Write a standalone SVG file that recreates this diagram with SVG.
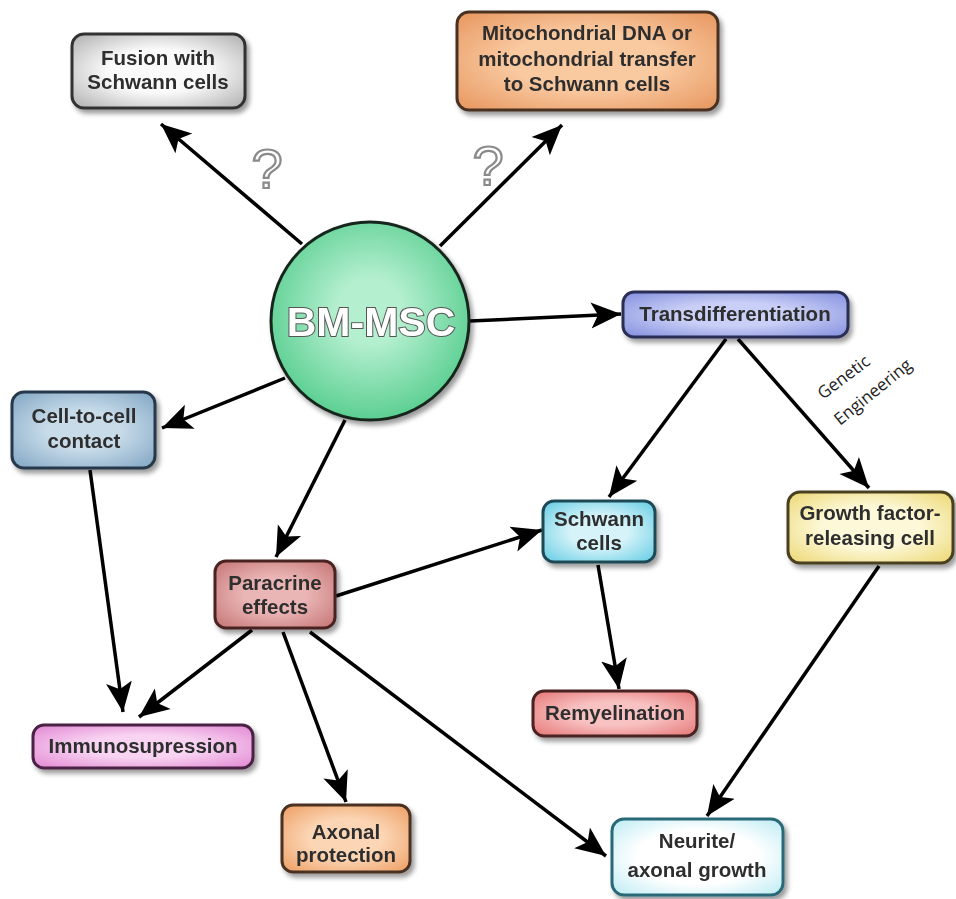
<svg xmlns="http://www.w3.org/2000/svg" width="956" height="899" viewBox="0 0 956 899">
<defs>
<style>
.box{stroke-width:3}
.t{font-family:"Liberation Sans",Arial,sans-serif;font-weight:bold;font-size:20.5px;fill:#2e2e2e;text-anchor:middle}
.c line{stroke:#000;stroke-width:3.5;marker-end:url(#ah)}
.q{font-family:"Liberation Sans",Arial,sans-serif;font-size:56px;fill:#fff;stroke:#8a8a8a;stroke-width:2.2;text-anchor:middle}
.ge{font-family:"Open Sans","Noto Sans",sans-serif;font-size:17px;fill:#222}
</style>
<marker id="ah" markerUnits="userSpaceOnUse" markerWidth="32" markerHeight="28" refX="30" refY="14" orient="auto">
<path d="M0,1 L30,14 L0,27 L7,14 z" fill="#000"/>
</marker>
<filter id="sh" x="-20%" y="-20%" width="140%" height="150%">
<feGaussianBlur in="SourceAlpha" stdDeviation="2.5"/>
<feOffset dx="3" dy="4" result="b"/>
<feComponentTransfer><feFuncA type="linear" slope="0.4"/></feComponentTransfer>
<feMerge><feMergeNode/><feMergeNode in="SourceGraphic"/></feMerge>
</filter>
<radialGradient id="gGray" cx="50%" cy="50%" r="65%"><stop offset="0.45" stop-color="#fafafa"/><stop offset="1" stop-color="#b8b8b8"/></radialGradient>
<radialGradient id="gOrange" cx="50%" cy="50%" r="65%"><stop offset="0.45" stop-color="#f9c9a0"/><stop offset="1" stop-color="#e99c66"/></radialGradient>
<radialGradient id="gBlue" cx="50%" cy="50%" r="65%"><stop offset="0.4" stop-color="#c9cff6"/><stop offset="1" stop-color="#8a95e0"/></radialGradient>
<radialGradient id="gSteel" cx="50%" cy="50%" r="65%"><stop offset="0.4" stop-color="#c7dbe9"/><stop offset="1" stop-color="#88abc7"/></radialGradient>
<radialGradient id="gRose" cx="50%" cy="50%" r="65%"><stop offset="0.4" stop-color="#eab5b5"/><stop offset="1" stop-color="#c97b7b"/></radialGradient>
<radialGradient id="gCyan" cx="50%" cy="50%" r="65%"><stop offset="0.4" stop-color="#d5f3f9"/><stop offset="1" stop-color="#6fd0e6"/></radialGradient>
<radialGradient id="gYellow" cx="50%" cy="50%" r="65%"><stop offset="0.45" stop-color="#fdf8d8"/><stop offset="1" stop-color="#eedb7e"/></radialGradient>
<radialGradient id="gPink" cx="50%" cy="50%" r="65%"><stop offset="0.4" stop-color="#f8d4f2"/><stop offset="1" stop-color="#e48fd6"/></radialGradient>
<radialGradient id="gRed" cx="50%" cy="50%" r="65%"><stop offset="0.4" stop-color="#f8c2c2"/><stop offset="1" stop-color="#e87e7e"/></radialGradient>
<radialGradient id="gPeach" cx="50%" cy="50%" r="65%"><stop offset="0.45" stop-color="#fbd5b4"/><stop offset="1" stop-color="#efa46c"/></radialGradient>
<radialGradient id="gWhite" cx="50%" cy="50%" r="65%"><stop offset="0.55" stop-color="#ffffff"/><stop offset="1" stop-color="#c5eef5"/></radialGradient>
<radialGradient id="gGreen" cx="50%" cy="45%" r="55%"><stop offset="0.3" stop-color="#b4efcf"/><stop offset="1" stop-color="#5ccf92"/></radialGradient>
</defs>
<rect width="956" height="899" fill="#fff"/>

<g class="c" id="connectors">
<line x1="302" y1="244" x2="161" y2="124"/>
<line x1="440" y1="246" x2="562" y2="125"/>
<line x1="470" y1="321" x2="621" y2="314"/>
<line x1="285" y1="378" x2="162" y2="428"/>
<line x1="345" y1="420" x2="276" y2="557"/>
<line x1="726" y1="339" x2="609" y2="497"/>
<line x1="738" y1="339" x2="869" y2="488"/>
<line x1="336" y1="596" x2="542" y2="530"/>
<line x1="598" y1="565" x2="619" y2="689"/>
<line x1="90" y1="470" x2="123" y2="712"/>
<line x1="252" y1="630" x2="139" y2="717"/>
<line x1="283" y1="632" x2="346" y2="802"/>
<line x1="310" y1="632" x2="606" y2="856"/>
<line x1="879" y1="566" x2="707" y2="816"/>
</g>

<text class="q" x="267" y="188">?</text>
<text class="q" x="488" y="185">?</text>
<text class="ge" transform="translate(823,400) rotate(-37)">Genetic</text>
<text class="ge" transform="translate(840,426) rotate(-39)">Engineering</text>

<g id="bmmsc" filter="url(#sh)">
<circle cx="370" cy="321" r="99" fill="url(#gGreen)" stroke="#15281c" stroke-width="3"/>
<text x="371" y="336" font-family="'Liberation Sans',Arial,sans-serif" font-weight="bold" font-size="41" fill="#fff" stroke="#555" stroke-width="2" paint-order="stroke" text-anchor="middle">BM-MSC</text>
</g>

<g id="fusion" filter="url(#sh)">
<rect class="box" x="72" y="34" width="173" height="74" rx="12" fill="url(#gGray)" stroke="#333"/>
<text class="t" x="158" y="65">Fusion with</text>
<text class="t" x="158" y="89">Schwann cells</text>
</g>

<g id="mito" filter="url(#sh)">
<rect class="box" x="457" y="12" width="261" height="98" rx="12" fill="url(#gOrange)" stroke="#4a3020"/>
<text class="t" x="587" y="40">Mitochondrial DNA or</text>
<text class="t" x="587" y="66">mitochondrial transfer</text>
<text class="t" x="587" y="91">to Schwann cells</text>
</g>

<g id="transdiff" filter="url(#sh)">
<rect class="box" x="623" y="292" width="225" height="45" rx="11" fill="url(#gBlue)" stroke="#2a2f55"/>
<text class="t" x="735" y="321">Transdifferentiation</text>
</g>

<g id="celltocell" filter="url(#sh)">
<rect class="box" x="12" y="392" width="143" height="76" rx="12" fill="url(#gSteel)" stroke="#27384a"/>
<text class="t" x="84" y="423">Cell-to-cell</text>
<text class="t" x="84" y="448">contact</text>
</g>

<g id="paracrine" filter="url(#sh)">
<rect class="box" x="215" y="561" width="120" height="67" rx="11" fill="url(#gRose)" stroke="#4a2424"/>
<text class="t" x="275" y="590">Paracrine</text>
<text class="t" x="275" y="614">effects</text>
</g>

<g id="schwann" filter="url(#sh)">
<rect class="box" x="543" y="501" width="112" height="61" rx="11" fill="url(#gCyan)" stroke="#1f4a55"/>
<text class="t" x="599" y="526">Schwann</text>
<text class="t" x="599" y="550">cells</text>
</g>

<g id="growth" filter="url(#sh)">
<rect class="box" x="788" y="492" width="165" height="71" rx="12" fill="url(#gYellow)" stroke="#4a4020"/>
<text class="t" x="870" y="520">Growth factor-</text>
<text class="t" x="870" y="545">releasing cell</text>
</g>

<g id="immuno" filter="url(#sh)">
<rect class="box" x="33" y="725" width="220" height="43" rx="11" fill="url(#gPink)" stroke="#4a2045"/>
<text class="t" x="143" y="753">Immunosupression</text>
</g>

<g id="remyel" filter="url(#sh)">
<rect class="box" x="533" y="691" width="164" height="45" rx="11" fill="url(#gRed)" stroke="#4a2020"/>
<text class="t" x="615" y="720">Remyelination</text>
</g>

<g id="axonal" filter="url(#sh)">
<rect class="box" x="282" y="805" width="128" height="67" rx="11" fill="url(#gPeach)" stroke="#4a3020"/>
<text class="t" x="346" y="839">Axonal</text>
<text class="t" x="346" y="862">protection</text>
</g>

<g id="neurite" filter="url(#sh)">
<rect class="box" x="612" y="819" width="171" height="76" rx="12" fill="url(#gWhite)" stroke="#2a6a78"/>
<text class="t" x="697" y="848">Neurite/</text>
<text class="t" x="697" y="877">axonal growth</text>
</g>
</svg>
